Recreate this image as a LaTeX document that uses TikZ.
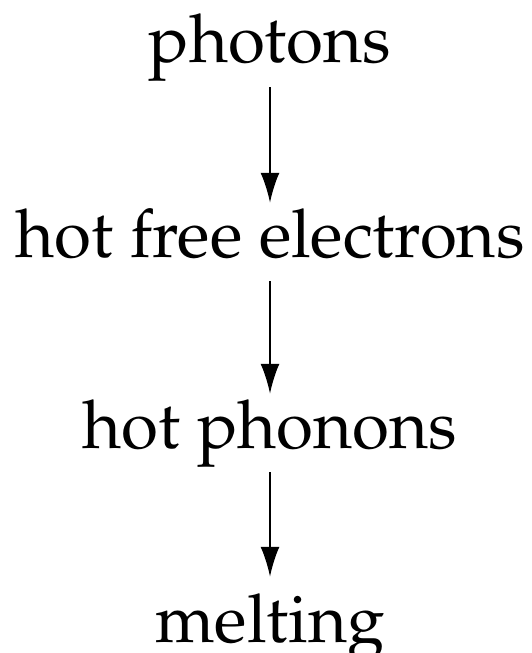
\documentclass[tikz,border=0pt]{standalone}
\usepackage[T1]{fontenc}
\usepackage{mathpazo}
\usetikzlibrary{arrows.meta}
\tikzset{
  lbl/.style={anchor=base, inner sep=0pt, text height=54bp, text depth=24bp, font=\fontsize{67.5}{70}\selectfont},
  arr/.style={line width=2.2bp, -{Latex[length=30bp,width=19bp]}}
}
\begin{document}
\begin{tikzpicture}[x=1bp,y=1bp]
\useasboundingbox (0,0) rectangle (532,-653);
\node[lbl] (a) at (270,-63) {photons};
\node[lbl] (b) at (270,-257) {hot free electrons};
\node[lbl] (c) at (270,-448) {hot phonons};
\node[lbl] (d) at (270,-642) {melting};
\draw[arr] (a) -- (b);
\draw[arr] (b) -- (c);
\draw[arr, shorten >=11bp] (c) -- (d);
\end{tikzpicture}
\end{document}
